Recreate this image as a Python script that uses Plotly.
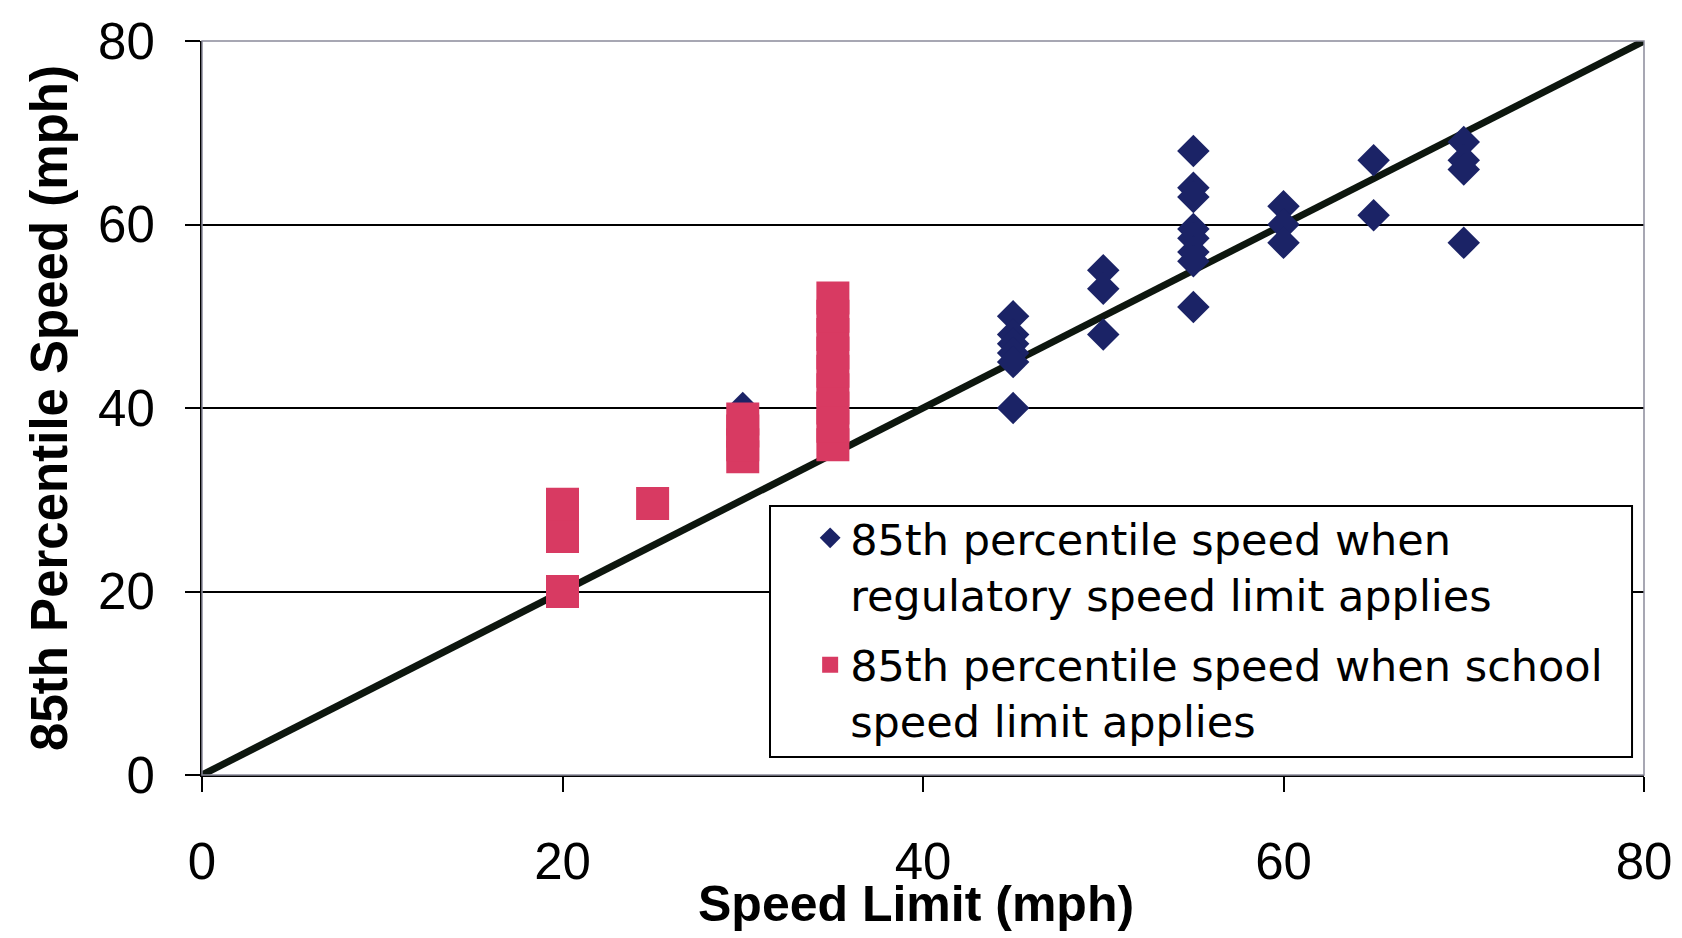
import plotly.graph_objects as go

# Regulatory speed limit: speed limit (mph) vs 85th percentile speed (mph)
reg_limit = [30,
             45, 45, 45, 45, 45, 45,
             50, 50, 50,
             55, 55, 55, 55, 55, 55, 55, 55,
             60, 60, 60,
             65, 65,
             70, 70, 70, 70]
reg_speed = [40,
             50, 48, 47, 46, 45, 40,
             55, 53, 48,
             68, 64, 63, 59.5, 58.5, 57, 56, 51,
             62, 60, 58,
             67, 61,
             69, 67, 66, 58]

# School speed limit: speed limit (mph) vs 85th percentile speed (mph)
sch_limit = [20, 20, 20, 20,
             25,
             30, 30, 30, 30,
             35, 35, 35, 35, 35, 35, 35, 35, 35]
sch_speed = [20, 26, 28, 29.5,
             29.6,
             34.7, 36, 37.5, 38.8,
             36, 38, 40, 42, 44, 46, 48, 50, 52]

# Equality line
eq_x = [0, 80]
eq_y = [0, 80]

x_ticks = [0, 20, 40, 60, 80]
y_ticks = [0, 20, 40, 60, 80]

NAVY = "#1b2366"
RED = "#d83a62"
FONT = "Liberation Sans, Arial, sans-serif"
LFONT = "DejaVu Sans, sans-serif"

fig = go.Figure()

fig.add_trace(go.Scatter(
    x=eq_x, y=eq_y, mode="lines",
    line=dict(color="#0d160e", width=7),
    showlegend=False, hoverinfo="skip",
))

fig.add_trace(go.Scatter(
    x=reg_limit, y=reg_speed, mode="markers",
    name="85th percentile speed when<br>regulatory speed limit applies",
    legendgroup="a",
    marker=dict(symbol="diamond", size=25, color=NAVY, line=dict(width=0)),
))

fig.add_trace(go.Scatter(
    x=sch_limit, y=sch_speed, mode="markers",
    name="85th percentile speed when school<br>speed limit applies",
    legendgroup="b",
    marker=dict(symbol="square", size=33, color=RED, line=dict(width=0)),
))

# thin plot-area frame (top and right edges)
fig.add_shape(
    type="rect", xref="paper", yref="paper",
    x0=0, x1=1, y0=0, y1=1,
    line=dict(color="#8a8a9a", width=1.5), fillcolor="rgba(0,0,0,0)", layer="above",
)

# legend frame (page body has an 8px margin, compensated in size/margins)
fig.add_shape(
    type="rect", xref="paper", yref="paper",
    x0=0.3939, x1=0.9917, y0=0.0245, y1=0.3665,
    line=dict(color="black", width=2), fillcolor="white", layer="above",
)

fig.add_annotation(
    text="<b>Speed Limit (mph)</b>", xref="paper", yref="paper",
    x=0.495, y=-0.1757, xanchor="center", yanchor="middle", showarrow=False,
    font=dict(family=FONT, size=50, color="black"),
)

fig.update_layout(
    width=1674, height=930,
    paper_bgcolor="white", plot_bgcolor="white",
    margin=dict(l=194, r=38, t=33, b=163),
    font=dict(family=FONT, color="black"),
    legend=dict(
        x=0.394, y=0.370, xanchor="left", yanchor="top",
        bgcolor="rgba(0,0,0,0)", borderwidth=0,
        font=dict(family=LFONT, size=43, color="black"),
        valign="top", itemwidth=30, indentation=40,
        tracegroupgap=12,
    ),
    xaxis=dict(
        range=[0, 80], tickvals=x_ticks, ticktext=[str(v) for v in x_ticks],
        showgrid=False, zeroline=False, automargin=False,
        showline=True, linecolor="black", linewidth=2,
        ticks="outside", ticklen=15, tickwidth=2, tickcolor="black",
        tickfont=dict(family=FONT, size=51, color="black"),
        ticklabelstandoff=26,
    ),
    yaxis=dict(
        range=[0, 80], tickvals=y_ticks, ticktext=[str(v) for v in y_ticks],
        showgrid=True, gridcolor="black", gridwidth=2,
        zeroline=False, automargin=False,
        showline=True, linecolor="black", linewidth=2,
        ticks="outside", ticklen=15, tickwidth=2, tickcolor="black",
        tickfont=dict(family=FONT, size=51, color="black"),
        ticklabelstandoff=20,
        title=dict(text="<b>85th Percentile Speed (mph)</b>", font=dict(family=FONT, size=51, color="black"), standoff=14),
    ),
)

fig.write_html("out.html")
